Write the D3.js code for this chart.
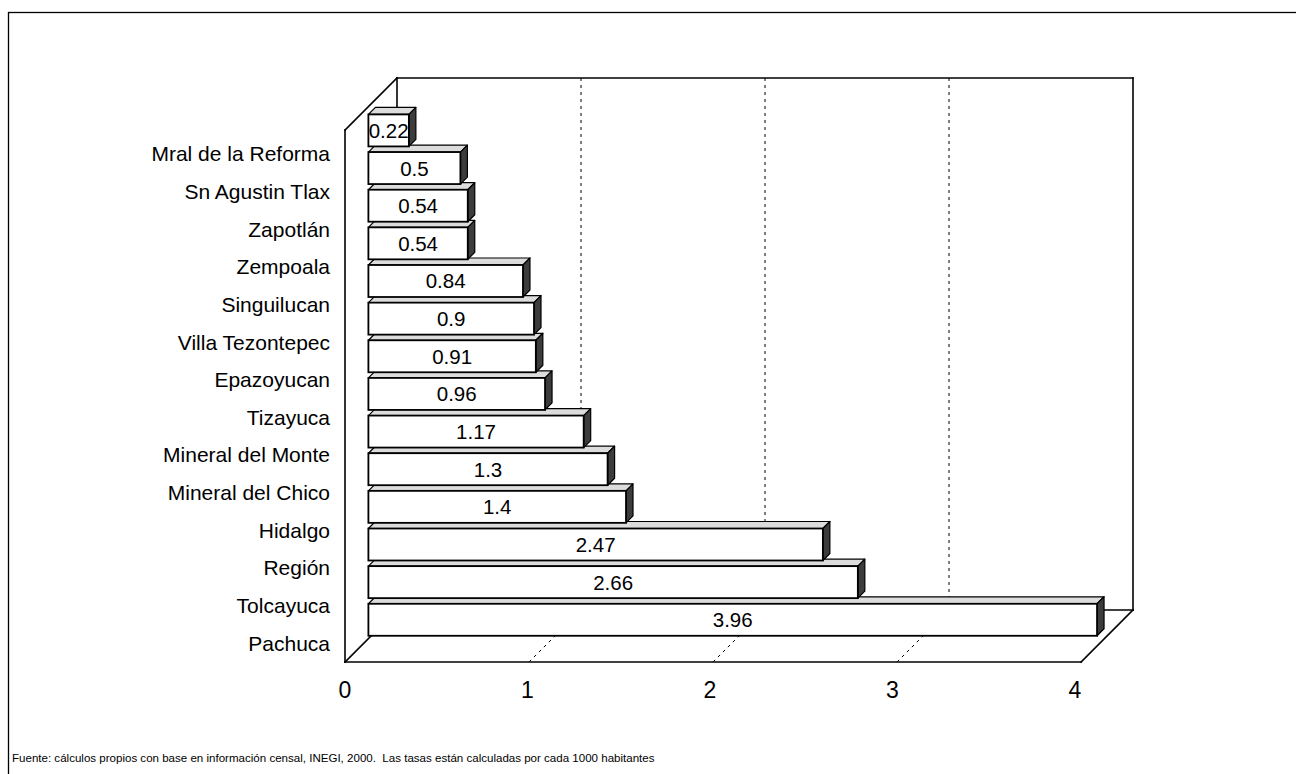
<!DOCTYPE html>
<html>
<head>
<meta charset="utf-8">
<script src="https://cdn.jsdelivr.net/npm/d3@7/dist/d3.min.js"></script>
<style>
  html, body { margin: 0; padding: 0; background: #fff; }
  svg { display: block; font-family: Arial, "Liberation Sans", sans-serif; }
</style>
</head>
<body>
<svg id="chart" width="1296" height="774"></svg>
<script>
// Tasas por cada 1000 habitantes, por municipio
const categories = [
  "Mral de la Reforma", "Sn Agustin Tlax", "Zapotlán", "Zempoala",
  "Singuilucan", "Villa Tezontepec", "Epazoyucan", "Tizayuca",
  "Mineral del Monte", "Mineral del Chico", "Hidalgo", "Región",
  "Tolcayuca", "Pachuca"
];
const values = [0.22, 0.5, 0.54, 0.54, 0.84, 0.9, 0.91, 0.96, 1.17, 1.3, 1.4, 2.47, 2.66, 3.96];
const xTicks = [0, 1, 2, 3, 4];
const footnote = "Fuente: cálculos propios con base en información censal, INEGI, 2000.  Las tasas están calculadas por cada 1000 habitantes";

const svg = d3.select("#chart");

// Outer frame
svg.append("rect")
  .attr("x", 8.5).attr("y", 12.5).attr("width", 1400).attr("height", 900)
  .attr("fill", "none").attr("stroke", "#000").attr("stroke-width", 1.3);

// Front plane of the 3D plot box and its depth offset
const front = { left: 345, right: 1081, top: 130, bottom: 662 };
const depth = 52;
const barFront = 0.45 * depth;   // offset of bar front faces into the box
const barDepth = 7;              // thickness of each bar in depth

const x = d3.scaleLinear().domain([0, 4]).range([front.left, front.right]);
const y = d3.scaleBand().domain(categories)
  .range([135, front.bottom]).paddingInner(0.15).paddingOuter(0.075);

const line = (x1, y1, x2, y2, g, w = 1.6, dash = null) => {
  const l = g.append("line")
    .attr("x1", x1).attr("y1", y1).attr("x2", x2).attr("y2", y2)
    .attr("stroke", "#000").attr("stroke-width", w).attr("stroke-linecap", "square");
  if (dash) l.attr("stroke-dasharray", dash).attr("stroke-linecap", "butt");
  return l;
};

const box = svg.append("g");
const bl = front.left + depth, br = front.right + depth;
const bt = front.top - depth, bb = front.bottom - depth;

// Gridlines on back wall and floor
xTicks.slice(1, -1).forEach(v => {
  line(x(v) + depth, bt, x(v) + depth, bb, box, 1, "3,4");
  line(x(v), front.bottom, x(v) + depth, bb, box, 1, "3,4");
});

// Back wall
line(bl, bt, br, bt, box);
line(br, bt, br, bb, box);
line(bl, bb, br, bb, box);
line(bl, bt, bl, bb, box);
// Left wall
line(front.left, front.top, front.left, front.bottom, box);
line(front.left, front.top, bl, bt, box);
line(front.left, front.bottom, bl, bb, box);
// Floor
line(front.left, front.bottom, front.right, front.bottom, box);
line(front.right, front.bottom, br, bb, box);

// Bars, drawn from the bottom up so upper bars overlap lower top faces
const bars = svg.append("g");
const rows = categories.map((c, i) => ({ c, v: values[i] })).reverse();
rows.forEach(d => {
  const x0 = x(0) + barFront, x1 = x(d.v) + barFront;
  const y0 = y(d.c) - barFront, y1 = y0 + y.bandwidth();
  const g = bars.append("g");
  // top face
  g.append("path")
    .attr("d", `M${x0},${y0}L${x1},${y0}L${x1 + barDepth},${y0 - barDepth}L${x0 + barDepth},${y0 - barDepth}Z`)
    .attr("fill", "#dcdcdc").attr("stroke", "#000").attr("stroke-width", 1.2).attr("stroke-linejoin", "round");
  // side face
  g.append("path")
    .attr("d", `M${x1},${y0}L${x1 + barDepth},${y0 - barDepth}L${x1 + barDepth},${y1 - barDepth}L${x1},${y1}Z`)
    .attr("fill", "#3c3c3c").attr("stroke", "#000").attr("stroke-width", 1.2).attr("stroke-linejoin", "round");
  // front face
  g.append("rect")
    .attr("x", x0).attr("y", y0).attr("width", x1 - x0).attr("height", y1 - y0)
    .attr("fill", "#fff").attr("stroke", "#000").attr("stroke-width", 1.8);
  // value label
  g.append("text")
    .attr("x", (x0 + x1) / 2).attr("y", (y0 + y1) / 2)
    .attr("text-anchor", "middle").attr("dominant-baseline", "central")
    .attr("font-size", 20.5).attr("fill", "#000")
    .text(d.v);
});

// Category labels
svg.append("g").selectAll("text").data(categories).join("text")
  .attr("x", 330).attr("y", d => y(d) + y.bandwidth() / 2)
  .attr("text-anchor", "end").attr("dominant-baseline", "central")
  .attr("font-size", 21).attr("fill", "#000")
  .text(d => d);

// Value axis tick labels
svg.append("g").selectAll("text").data(xTicks).join("text")
  .attr("x", d => x(d) - d * 1.5).attr("y", 690)
  .attr("text-anchor", "middle").attr("dominant-baseline", "central")
  .attr("font-size", 23).attr("fill", "#000")
  .text(d => d);

// Source note
svg.append("text")
  .attr("x", 12).attr("y", 762)
  .attr("font-size", 11.55).attr("fill", "#000")
  .style("white-space", "pre")
  .text(footnote);
</script>
</body>
</html>
